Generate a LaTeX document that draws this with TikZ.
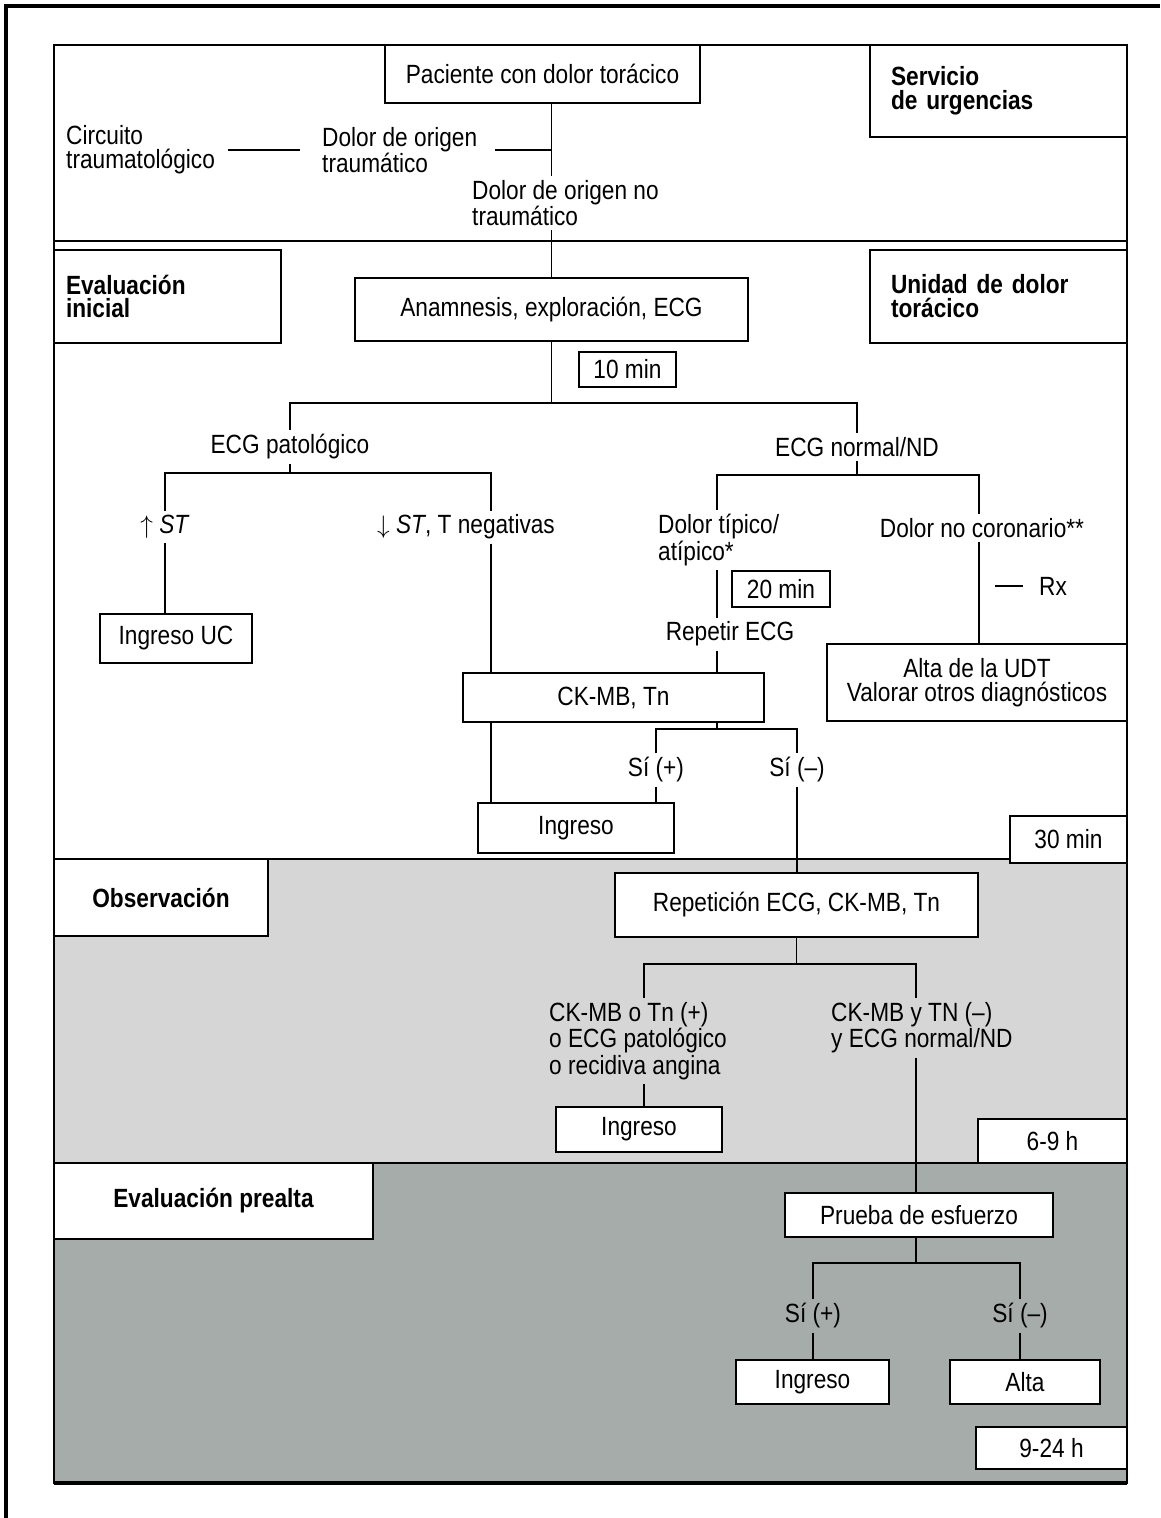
\documentclass[tikz,border=0pt]{standalone}
\usepackage{fontspec}
\setmainfont[FakeStretch=0.86]{Liberation Sans}
\usepackage{tikz}
\definecolor{grisclaro}{RGB}{214,214,214}
\definecolor{grisoscuro}{RGB}{166,172,170}
\newcommand{\udtfont}{\fontsize{15}{13.6}\selectfont}

\begin{document}
\begin{tikzpicture}[x = 0.02cm, y = -0.02cm, line width = 0.8pt, font = \udtfont,
                    caja/.style = {draw, fill = white, line width = 0.9pt, inner sep = 2pt, align = center},
                    seccion/.style = {draw, fill = white, line width = 0.9pt, align = left, font = \udtfont\bfseries},
                    texto/.style = {inner sep = 2pt, align = left}]
      \useasboundingbox (0,0) rectangle (1160,1518);
      % bandas y marcos
      \fill [grisclaro] (54,859) rectangle (1127,1163);
      \fill [grisoscuro] (54,1163) rectangle (1127,1483);
      \draw [line width = 1.8pt] (6,1518) -- (6,6) -- (1160,6);
      \draw [line width = 1.2pt] (54,45) rectangle (1127,1483);
      \draw [line width = 1.2pt] (54,241) -- (1127,241);
      \draw (54,859) -- (1127,859);
      \draw (54,1163) -- (1127,1163);
      \draw [line width = 2.4pt] (54,1483) -- (1127,1483);

      % rotulos de las zonas
      \node [seccion, minimum width = 5.14cm, minimum height = 1.84cm, text width = 4.3cm, inner xsep = 0.42cm] (serv) at (998.5,91) {Servicio\\de urgencias};
      \node [seccion, minimum width = 4.54cm, minimum height = 1.86cm, text width = 4.06cm, inner xsep = 0.24cm] (evini) at (167.5,296.5) {Evaluación\\inicial};
      \node [seccion, minimum width = 5.14cm, minimum height = 1.86cm, text width = 4.3cm, inner xsep = 0.42cm] (udt) at (998.5,296.5) {Unidad de dolor\\torácico};
      \node [seccion, align = center, minimum width = 4.28cm, minimum height = 1.54cm] (obs) at (161,897.5) {Observación};
      \node [seccion, align = center, minimum width = 6.38cm, minimum height = 1.52cm] (prealta) at (213.5,1201) {Evaluación prealta};

      % servicio de urgencias
      \node [caja, minimum width = 6.3cm, minimum height = 1.16cm] (pac) at (542.5,74) {Paciente con dolor torácico};
      \node [texto, anchor = west] (circ) at (62,150) {Circuito\\traumatológico};
      \node [texto, anchor = west] (trau) at (318,150) {Dolor de origen\\traumático};
      \node [texto, anchor = west] (notrau) at (468,203) {Dolor de origen no\\traumático};

      % unidad de dolor toracico
      \node [caja, minimum width = 7.86cm, minimum height = 1.26cm] (ana) at (551.5,309.5) {Anamnesis, exploración, ECG};
      \node [caja, minimum width = 1.94cm, minimum height = 0.7cm] (t10) at (627.5,369.5) {10 min};
      \node [texto] (ecgp) at (290,447) {ECG patológico};
      \node [texto] (ecgn) at (857,447) {ECG normal/ND};
      \node [texto] (stup) at (165,527) {$\uparrow$ \textit{ST}};
      \node [texto] (stdown) at (466,527) {$\downarrow$ \textit{ST}, T negativas};
      \node [texto, anchor = west] (dtip) at (654,540) {Dolor típico/\\atípico*};
      \node [texto] (dnc) at (982,528) {Dolor no coronario**};
      \node [texto, anchor = west] (rx) at (991,586) {\rule[0.32em]{0.56cm}{0.8pt}\hspace{0.32cm}Rx};
      \node [caja, minimum width = 1.96cm, minimum height = 0.72cm] (t20) at (781,589) {20 min};
      \node [texto] (repecg) at (730,634) {Repetir ECG};
      \node [caja, minimum width = 3.04cm, minimum height = 0.98cm] (ingUC) at (176,638.5) {Ingreso UC};
      \node [caja, minimum width = 6.02cm, minimum height = 0.98cm] (ckmb) at (613.5,697.5) {CK-MB, Tn};
      \node [caja, minimum width = 6cm, minimum height = 1.54cm] (altaudt) at (977,682.5) {Alta de la UDT\\Valorar otros diagnósticos};
      \node [texto] (sip1) at (656,770) {Sí (+)};
      \node [texto] (sim1) at (797,770) {Sí (–)};
      \node [caja, minimum width = 3.92cm, minimum height = 1cm] (ing1) at (576,828) {Ingreso};
      \node [caja, minimum width = 2.34cm, minimum height = 0.94cm] (t30) at (1068.5,839.5) {30 min};

      % observacion
      \node [caja, minimum width = 7.26cm, minimum height = 1.28cm] (rep) at (796.5,905) {Repetición ECG, CK-MB, Tn};
      \node [texto, anchor = west] (obsp) at (545,1041) {CK-MB o Tn (+)\\o ECG patológico\\o recidiva angina};
      \node [texto, anchor = west] (obsn) at (827,1028) {CK-MB y TN (–)\\y ECG normal/ND};
      \node [caja, minimum width = 3.32cm, minimum height = 0.9cm] (ing2) at (639,1129.5) {Ingreso};
      \node [caja, minimum width = 2.98cm, minimum height = 0.88cm] (t69) at (1052.5,1141) {6-9 h};

      % evaluacion prealta
      \node [caja, minimum width = 5.36cm, minimum height = 0.88cm] (prueba) at (919,1215) {Prueba de esfuerzo};
      \node [texto] (sip2) at (813,1316) {Sí (+)};
      \node [texto] (sim2) at (1020,1316) {Sí (–)};
      \node [caja, minimum width = 3.06cm, minimum height = 0.88cm] (ing3) at (812.5,1382) {Ingreso};
      \node [caja, minimum width = 3cm, minimum height = 0.88cm] (alta) at (1025,1382) {Alta};
      \node [caja, minimum width = 3.02cm, minimum height = 0.84cm] (t924) at (1051.5,1448) {9-24 h};

      % puntos de union
      \coordinate (f1) at (551.5,403);
      \coordinate (f2) at (290,473);
      \coordinate (xneg) at (491,473);
      \coordinate (f3) at (857,475);
      \coordinate (xtip) at (717,475);
      \coordinate (xnc) at (979,475);
      \coordinate (f4) at (717,729);
      \coordinate (f5) at (796.5,964);
      \coordinate (xpos) at (644,964);
      \coordinate (xnegb) at (916,964);
      \coordinate (f6) at (916,1263);

      % conexiones
      \draw [shorten <= 5pt, shorten >= 10pt] (circ.east) -- (trau.west);
      \draw [shorten <= 8pt] (trau.east) -- (trau.east -| ana.north);
      \draw (ana.north |- pac.south) -- (ana.north |- notrau.north);
      \draw (ana.north |- notrau.south) -- (ana.north);
      \draw (ana.south) -- (f1);
      \draw (ecgp.north) |- (f1) -| (ecgn.north);
      \draw (ecgp.south) -- (f2);
      \draw (stup.north) |- (f2) -- (xneg) -- (xneg |- stdown.north);
      \draw (stup.south) -- (stup.south |- ingUC.north);
      \draw (xneg |- stdown.south) -- (xneg |- ckmb.north);
      \draw (ecgn.south) -- (f3);
      \draw (xtip |- dtip.north) -- (xtip) -- (xnc) -- (xnc |- dnc.north);
      \draw (xtip |- dtip.south) -- (xtip |- repecg.north);
      \draw (xtip |- repecg.south) -- (xtip |- ckmb.north);
      \draw (xnc |- dnc.south) -- (xnc |- altaudt.north);
      \draw (xtip |- ckmb.south) -- (f4);
      \draw (sip1.north) |- (f4) -| (sim1.north);
      \draw (sip1.south) -- (sip1.south |- ing1.north);
      \draw (xneg |- ckmb.south) -- (xneg |- ing1.north);
      \draw (sim1.south) -- (sim1.south |- rep.north);
      \draw (rep.south) -- (f5);
      \draw (xpos |- obsp.north) -- (xpos) -- (xnegb) -- (xnegb |- obsn.north);
      \draw (xpos |- obsp.south) -- (xpos |- ing2.north);
      \draw (xnegb |- obsn.south) -- (xnegb |- prueba.north);
      \draw (xnegb |- prueba.south) -- (f6);
      \draw (sip2.north) |- (f6) -| (sim2.north);
      \draw (sip2.south) -- (sip2.south |- ing3.north);
      \draw (sim2.south) -- (sim2.south |- alta.north);
    \end{tikzpicture}
\end{document}
